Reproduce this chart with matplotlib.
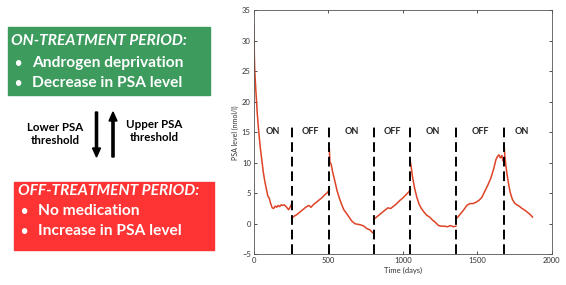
"""PSA level under intermittent androgen deprivation, with a schematic on the left."""

import matplotlib
matplotlib.use("Agg")
import matplotlib.pyplot as plt
from matplotlib.patches import Rectangle, FancyArrow

plt.rcParams["font.family"] = ["Lato", "DejaVu Sans"]

# simulated PSA trajectory, one list pair per treatment period
on1_t = [0, 3, 8, 15, 25, 35, 45, 55, 65, 75, 85, 95, 105, 115, 125, 135, 145,
         155, 165, 175, 185, 195, 205, 215, 225, 235, 245, 250, 256]
on1_v = [32.5, 29.5, 25, 22, 18, 15, 12.5, 10.5, 8.5, 7, 5.8, 4.6, 4.2, 3.3, 2.6,
         2.5, 2.9, 2.7, 3.0, 2.8, 3.1, 3.0, 3.1, 2.9, 2.6, 2.3, 2.7, 3.0, 3.2]
off1_t = [256, 270, 290, 310, 330, 350, 370, 385, 400, 420, 440, 460, 480, 495, 508]
off1_v = [0.9, 1.2, 1.5, 1.9, 2.3, 2.7, 3.0, 2.7, 3.1, 3.5, 3.9, 4.3, 4.8, 5.1, 5.6]
on2_t = [508, 512, 520, 530, 545, 560, 575, 590, 605, 620, 640, 660, 680, 700,
         720, 740, 760, 780, 795, 806]
on2_v = [12.3, 10.0, 9.8, 8.5, 7.0, 5.4, 4.2, 3.2, 2.3, 1.8, 1.1, 0.4, 0.0, -0.1,
         -0.2, -0.4, -0.8, -1.0, -1.4, -1.6]
off2_t = [806, 820, 840, 860, 880, 900, 920, 940, 960, 980, 1000, 1020, 1040, 1051]
off2_v = [0.7, 1.0, 1.4, 1.8, 2.2, 2.6, 2.5, 2.9, 3.3, 3.8, 4.2, 4.7, 5.2, 5.6]
on3_t = [1051, 1056, 1065, 1080, 1095, 1110, 1125, 1140, 1160, 1180, 1200, 1220,
         1240, 1260, 1280, 1300, 1320, 1340, 1357]
on3_v = [10.2, 9.5, 7.8, 5.8, 4.3, 3.2, 2.5, 2.0, 1.4, 1.1, 0.6, 0.2, -0.3, -0.4,
         -0.4, -0.5, -0.3, -0.5, -0.4]
off3_t = [1357, 1370, 1390, 1410, 1430, 1450, 1470, 1490, 1510, 1530, 1550, 1570,
          1590, 1610, 1625, 1635, 1645, 1655, 1665, 1672, 1681]
off3_v = [0.8, 1.1, 1.7, 2.3, 3.0, 3.3, 3.3, 3.5, 3.8, 4.3, 5.3, 6.3, 7.4, 9.0,
          10.5, 11.0, 11.3, 10.8, 11.2, 10.3, 10.8]
on4_t = [1681, 1685, 1692, 1700, 1710, 1720, 1735, 1750, 1765, 1780, 1800, 1820,
         1840, 1855, 1870]
on4_v = [12.5, 11.0, 9.5, 8.0, 6.5, 5.2, 4.0, 3.4, 3.1, 2.9, 2.5, 2.2, 1.8, 1.5, 1.1]

switch_days = [256, 508, 806, 1051, 1357, 1681]
period_edges = [0, 256, 508, 806, 1051, 1357, 1681, 1910]
period_labels = ["ON", "OFF", "ON", "OFF", "ON", "OFF", "ON"]

fig = plt.figure(figsize=(5.66, 2.85), dpi=100)

# --- right: PSA time course ---
ax = fig.add_axes([0.448, 0.108, 0.527, 0.856])
segments = [(on1_t, on1_v), (off1_t, off1_v), (on2_t, on2_v), (off2_t, off2_v),
            (on3_t, on3_v), (off3_t, off3_v), (on4_t, on4_v)]
for t, v in segments:
    ax.plot(t, v, color="#dd4326", lw=1.1)

ax.vlines(switch_days, -5, 15.8, colors="black", linestyles=(0, (5, 2.5)), lw=1.4)
for i, lab in enumerate(period_labels):
    mid = (period_edges[i] + period_edges[i + 1]) / 2
    ax.text(mid, 15.1, lab, ha="center", va="center", fontsize=6.5,
            fontweight="bold", color="#222222")

ax.set_xlim(0, 2000)
ax.set_ylim(-5, 35)
ax.set_xticks([0, 500, 1000, 1500, 2000])
ax.set_yticks(range(-5, 36, 5))
ax.tick_params(direction="in", length=2.5, width=0.6, labelsize=5.5,
               colors="#333333", top=True, right=True, pad=2)
for s in ax.spines.values():
    s.set_linewidth(0.6)
    s.set_color("#555555")
ax.set_xlabel("Time (days)", fontsize=5.5, labelpad=2, color="#333333")
ax.set_ylabel("PSA level (nmol/l)", fontsize=5, labelpad=2, color="#333333")

# --- left: schematic in pixel coordinates ---
ov = fig.add_axes([0, 0, 1, 1], zorder=-1)
ov.set_xlim(0, 566)
ov.set_ylim(285, 0)
ov.axis("off")

box_font = dict(color="white", fontsize=11.2, fontweight="bold", va="center")
dot_font = dict(color="white", fontsize=9, fontweight="bold", va="center")

ov.add_patch(Rectangle((8, 27), 202, 68, color="#3d9b5e"))
ov.text(11, 41, "ON-TREATMENT PERIOD:", style="italic", **box_font)
ov.text(14, 63, "•", **dot_font)
ov.text(32, 63, "Androgen deprivation", **box_font)
ov.text(14, 83, "•", **dot_font)
ov.text(32, 83, "Decrease in PSA level", **box_font)

ov.add_patch(Rectangle((14, 182), 200, 68, color="#fe3434"))
ov.text(18, 191, "OFF-TREATMENT PERIOD:", style="italic", **box_font)
ov.text(20, 211, "•", **dot_font)
ov.text(38, 211, "No medication", **box_font)
ov.text(20, 231, "•", **dot_font)
ov.text(38, 231, "Increase in PSA level", **box_font)

ov.add_patch(FancyArrow(96.5, 112, 0, 45, width=2.2, head_width=8, head_length=9,
                        length_includes_head=True, color="black"))
ov.add_patch(FancyArrow(113, 157, 0, -45, width=2.2, head_width=8, head_length=9,
                        length_includes_head=True, color="black"))
ov.text(55, 134, "Lower PSA\nthreshold", ha="center", va="center", fontsize=8.3,
        fontweight="bold", linespacing=1.2)
ov.text(154, 131, "Upper PSA\nthreshold", ha="center", va="center", fontsize=8.3,
        fontweight="bold", linespacing=1.2)

fig.savefig("out.png", dpi=100)
